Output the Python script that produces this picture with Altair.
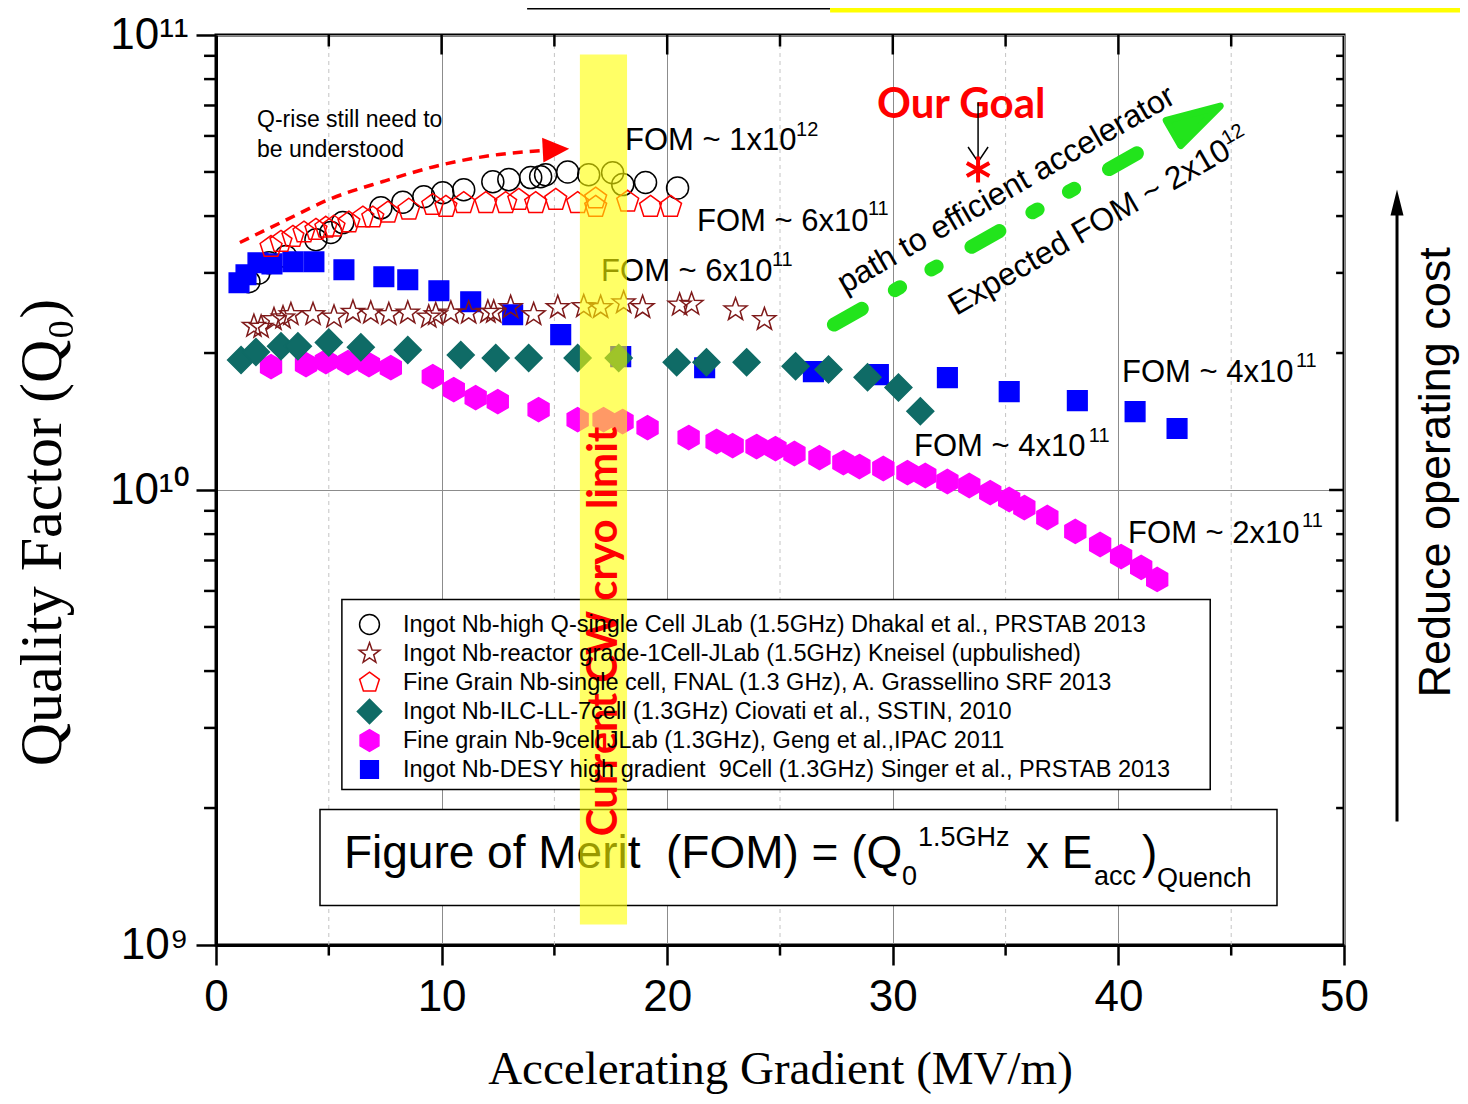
import altair as alt
import pandas as pd

# ---------------- data ----------------
SERIES = [
    "Ingot Nb-high Q-single Cell JLab (1.5GHz) Dhakal et al., PRSTAB 2013",
    "Ingot Nb-reactor grade-1Cell-JLab (1.5GHz) Kneisel (upbulished)",
    "Fine Grain Nb-single cell, FNAL (1.3 GHz), A. Grassellino SRF 2013",
    "Ingot Nb-ILC-LL-7cell (1.3GHz) Ciovati et al., SSTIN, 2010",
    "Fine grain Nb-9cell JLab (1.3GHz), Geng et al.,IPAC 2011",
    "Ingot Nb-DESY high gradient \u00a09Cell (1.3GHz) Singer et al., PRSTAB 2013",
]

dhakal_E = [1.46, 1.90, 2.35, 3.10, 4.43, 5.09, 5.62, 7.31, 8.28, 9.21, 10.05, 10.98,
            12.27, 12.98, 13.95, 14.39, 14.61, 15.59, 16.52, 17.58, 18.03, 19.04, 20.46]
dhakal_Q = [2.87e10, 3.00e10, 3.16e10, 3.26e10, 3.55e10, 3.68e10, 3.87e10, 4.17e10, 4.29e10,
            4.41e10, 4.50e10, 4.57e10, 4.76e10, 4.81e10, 4.86e10, 4.88e10, 4.93e10, 5.00e10,
            4.93e10, 4.98e10, 4.69e10, 4.74e10, 4.61e10]

kneisel_E = [1.68, 2.00, 2.57, 2.97, 3.32, 4.30, 5.23, 6.07, 6.86, 7.66, 8.50, 9.43, 9.74,
             10.41, 11.20, 12.05, 12.31, 13.06, 14.08, 15.15, 16.30, 17.05, 18.07, 18.91,
             20.55, 21.08, 23.03, 24.31]
kneisel_Q = [2.29e10, 2.28e10, 2.37e10, 2.39e10, 2.43e10, 2.43e10, 2.40e10, 2.46e10, 2.45e10,
             2.43e10, 2.45e10, 2.40e10, 2.43e10, 2.45e10, 2.45e10, 2.46e10, 2.46e10, 2.52e10,
             2.43e10, 2.52e10, 2.53e10, 2.52e10, 2.58e10, 2.52e10, 2.55e10, 2.56e10, 2.49e10,
             2.37e10]

grass_E = [2.44, 2.88, 3.41, 3.90, 4.43, 4.87, 5.23, 5.89, 6.51, 6.95, 7.62, 8.55, 9.61,
           10.19, 10.98, 11.96, 12.84, 13.42, 14.17, 15.06, 16.03, 16.83, 16.83, 18.25,
           19.26, 20.15]
grass_Q = [3.42e10, 3.51e10, 3.60e10, 3.68e10, 3.73e10, 3.77e10, 3.79e10, 3.87e10, 3.97e10,
           3.97e10, 4.07e10, 4.13e10, 4.23e10, 4.19e10, 4.27e10, 4.27e10, 4.27e10, 4.34e10,
           4.27e10, 4.34e10, 4.27e10, 4.37e10, 4.19e10, 4.30e10, 4.19e10, 4.19e10]

ciovati_E = [1.11, 1.77, 2.88, 3.63, 5.00, 6.42, 8.50, 10.85, 12.40, 13.86, 16.03, 17.85,
             20.42, 21.74, 23.52, 25.69, 27.15, 28.88, 30.25, 31.22]
ciovati_Q = [1.93e10, 2.01e10, 2.07e10, 2.07e10, 2.11e10, 2.06e10, 2.03e10, 1.98e10, 1.95e10,
             1.95e10, 1.95e10, 1.95e10, 1.91e10, 1.91e10, 1.91e10, 1.87e10, 1.84e10, 1.77e10,
             1.68e10, 1.49e10]

geng_E = [2.44, 3.99, 4.87, 5.85, 6.78, 7.75, 9.61, 10.54, 11.51, 12.49, 14.30, 16.03, 17.18,
          18.02, 19.13, 20.95, 22.19, 22.90, 23.96, 24.80, 25.64, 26.75, 27.81, 28.52, 29.58,
          30.65, 31.44, 32.42, 33.39, 34.32, 35.16, 35.83, 36.85, 38.09, 39.19, 40.12, 41.01,
          41.72]
geng_Q = [1.867e10, 1.886e10, 1.915e10, 1.905e10, 1.886e10, 1.857e10, 1.775e10, 1.662e10,
          1.596e10, 1.564e10, 1.502e10, 1.428e10, 1.428e10, 1.414e10, 1.371e10, 1.304e10,
          1.278e10, 1.252e10, 1.246e10, 1.233e10, 1.203e10, 1.178e10, 1.149e10, 1.126e10,
          1.115e10, 1.092e10, 1.076e10, 1.044e10, 1.023e10, 9.87e9, 9.53e9, 9.15e9, 8.70e9,
          8.11e9, 7.59e9, 7.14e9, 6.76e9, 6.36e9]

singer_E = [1.02, 1.33, 1.86, 2.48, 3.41, 4.34, 5.67, 7.44, 8.50, 9.88, 11.29, 13.15, 15.28,
            17.94, 21.66, 26.48, 29.36, 32.42, 35.16, 38.18, 40.74, 42.60]
singer_Q = [2.854e10, 2.972e10, 3.158e10, 3.14e10, 3.174e10, 3.174e10, 3.049e10, 2.942e10,
            2.898e10, 2.742e10, 2.593e10, 2.428e10, 2.195e10, 1.964e10, 1.857e10, 1.820e10,
            1.793e10, 1.766e10, 1.645e10, 1.572e10, 1.487e10, 1.365e10]

SERIES_DATA = [(dhakal_E, dhakal_Q), (kneisel_E, kneisel_Q), (grass_E, grass_Q),
               (ciovati_E, ciovati_Q), (geng_E, geng_Q), (singer_E, singer_Q)]
DRAW_Z = [0, 2, 5, 4, 3, 1]          # drawing order of each series

# marker styles
CIRCLE = "M0.786,0A0.786,0.786,0,1,1,-0.786,0A0.786,0.786,0,1,1,0.786,0Z"
STAR = ("M0,-0.86L0.206,-0.283L0.818,-0.266L0.333,0.108L0.505,0.696L0,0.35L-0.505,0.696"
        "L-0.333,0.108L-0.818,-0.266L-0.206,-0.283Z")
PENTAGON = "M0,-0.82L0.78,-0.253L0.482,0.663L-0.482,0.663L-0.78,-0.253Z"
DIAMOND = "M0,-0.96L0.96,0L0,0.96L-0.96,0Z"
HEXAGON = "M0,-0.86L0.745,-0.43L0.745,0.43L0,0.86L-0.745,0.43L-0.745,-0.43Z"
SQUARE = "M-0.7,-0.7L0.7,-0.7L0.7,0.7L-0.7,0.7Z"
SHAPES = [CIRCLE, STAR, PENTAGON, DIAMOND, HEXAGON, SQUARE]
STROKES = ["#000000", "#7f1a1a", "#ff0000", "#0f6b66", "#ff00ff", "#0000ff"]
FILLS = ["transparent", "transparent", "transparent", "#0f6b66", "#ff00ff", "#0000ff"]

# ticks / grid
MAJOR_X = [0, 10, 20, 30, 40, 50]
MINOR_X = [5, 15, 25, 35, 45]
MAJOR_Q = [1e9, 1e10, 1e11]
MINOR_Q = [2e9, 3e9, 4e9, 5e9, 6e9, 7e9, 8e9, 9e9,
           2e10, 3e10, 4e10, 5e10, 6e10, 7e10, 8e10, 9e10]

# annotations (data coordinates)
QRISE_TEXT = [(1.82, 6.49e10, "Q-rise still need to"), (1.82, 5.60e10, "be understood")]
RISE_CURVE_E = [1.06, 2.97, 5.01, 7.40, 10.06, 12.54, 14.58]
RISE_CURVE_Q = [3.499e10, 3.891e10, 4.351e10, 4.764e10, 5.193e10, 5.463e10, 5.574e10]
RISE_HEAD = (15.07, 5.603e10)
FOM_MAIN = [(18.13, 5.574e10, "FOM ~ 1x10"), (21.32, 3.718e10, "FOM ~ 6x10"),
            (17.07, 2.886e10, "FOM ~ 6x10"), (40.16, 1.723e10, "FOM ~ 4x10"),
            (30.94, 1.185e10, "FOM ~ 4x10"), (40.43, 7.666e9, "FOM ~ 2x10")]
FOM_EXP = [(25.71, 5.984e10, "12"), (28.90, 4.012e10, "11"), (24.64, 3.113e10, "11"),
           (47.87, 1.859e10, "11"), (38.69, 1.278e10, "11"), (48.14, 8.272e9, "11")]
GOAL_TEXT = (29.30, 6.585e10, "Our Goal")
GOAL_ARROW = (33.78, 7.105e10, 5.272e10)
GOAL_HEAD = (33.78, 5.463e10)
GOAL_STAR = (33.78, 5.063e10)
PATH_E = [27.39, 40.96]
PATH_Q = [2.310e10, 5.546e10]
PATH_HEAD = (43.48, 6.52e10)
PATH_TEXT = (35.02, 4.575e10, "path to efficient accelerator")
EXPECT_TEXT = (38.72, 3.776e10, "Expected FOM ~ 2x10")
EXPECT_EXP = (45.08, 6.045e10, "12")
BAND = (16.13, 18.22, 1.109e9, 9.06e10)
BAND_TEXT = (17.20, 4.89e9, "Current CW cryo limit")
COST_TEXT = (54.08, 1.093e10, "Reduce operating cost")
COST_ARROW = (52.35, 1.868e9, 4.135e10)
COST_HEAD = (52.35, 4.284e10)
LEGEND_BOX = (5.58, 44.07, 2.197e9, 5.745e9)
FORMULA_BOX = (4.61, 47.03, 1.221e9, 1.986e9)
FORMULA_BIG = [(5.67, 1.480e9, "Figure of Merit \u00a0(FOM) = (Q"), (35.90, 1.480e9, "x E"),
               (41.05, 1.480e9, ")")]
FORMULA_SMALL = [(30.41, 1.358e9, "0"), (31.12, 1.647e9, "1.5GHz"), (38.92, 1.358e9, "acc"),
                 (41.71, 1.338e9, "Quench")]
TOP_LINE = (13.79, 27.22, 1.155e11)
TOP_BOX = (27.22, 55.41, 1.121e11, 1.197e11)

# ---------------- helpers ----------------
SANS = "Liberation Sans"
SERIF = "Liberation Serif"
XS = alt.Scale(domain=[0, 50], nice=False, zero=False)
YS = alt.Scale(type="log", domain=[1e9, 1e11], nice=False)
XAXIS = alt.Axis(values=MAJOR_X, title="Accelerating Gradient (MV/m)", titleFont=SERIF,
                 titleFontSize=47, titleFontWeight="normal", titleColor="black",
                 titleY=124, titleBaseline="middle",
                 labelFont=SANS, labelFontSize=44, labelColor="black", labelPadding=10,
                 labelFlush=False, labelOverlap=False,
                 tickSize=20, tickWidth=2.5, tickColor="black",
                 domainColor="black", domainWidth=3,
                 grid=True, gridColor="#8c8c8c", gridWidth=1)
YAXIS = alt.Axis(values=MAJOR_Q,
                 labelExpr="datum.value > 5e10 ? '10\u00b9\u00b9' : (datum.value > 5e9 ? '10\u00b9\u2070' : '10\u2079')",
                 title="Quality Factor (Q\u2080)", titleFont=SERIF, titleFontSize=60,
                 titleFontWeight="normal", titleColor="black", titleAngle=270,
                 titleX=-174, titleY=497, titleAlign="center", titleBaseline="middle",
                 labelFont=SANS, labelFontSize=44, labelColor="black", labelPadding=8,
                 labelOverlap=False, labelFlush=False,
                 tickSize=20, tickWidth=2.5, tickColor="black",
                 domainColor="black", domainWidth=3,
                 grid=True, gridColor="#8c8c8c", gridWidth=1)


def X(f):
    return alt.X(f, type="quantitative", scale=XS, axis=XAXIS)


def Y(f):
    return alt.Y(f, type="quantitative", scale=YS, axis=YAXIS)


def texts(rows, **mark):
    df = pd.DataFrame(rows, columns=["x", "y", "t"])
    return alt.Chart(df).mark_text(**mark).encode(x=X("x"), y=Y("y"), text="t:N")


def rules(rows, **mark):
    df = pd.DataFrame(rows, columns=["x", "x2", "y", "y2"])
    return alt.Chart(df).mark_rule(**mark).encode(x=X("x"), x2="x2", y=Y("y"), y2="y2")


def rects(rows, **mark):
    df = pd.DataFrame(rows, columns=["x", "x2", "y", "y2"])
    return alt.Chart(df).mark_rect(**mark).encode(x=X("x"), x2="x2", y=Y("y"), y2="y2")


def symbol(pt, **mark):
    df = pd.DataFrame([pt], columns=["x", "y"])
    return alt.Chart(df).mark_point(opacity=1, **mark).encode(x=X("x"), y=Y("y"))


# ---------------- layers ----------------
TICK = dict(color="black", strokeWidth=2.5)
grid_minor = rules([(v, v, 1e9, 1e11) for v in MINOR_X], color="#c4c4c4", strokeWidth=1,
                   strokeDash=[4, 4])
ticks = alt.layer(
    rules([(-0.53, 0, q, q) for q in MINOR_Q], **TICK),
    rules([(v, v, 9.48e8, 1e9) for v in MINOR_X], **TICK),
    rules([(v, v, 9.06e10, 1e11) for v in MAJOR_X[1:-1]], **TICK),
    rules([(v, v, 9.435e10, 1e11) for v in MINOR_X], **TICK),
    rules([(49.34, 50, 1e10, 1e10)], **TICK),
    rules([(49.65, 50, q, q) for q in MINOR_Q], **TICK),
)

boxes = rects([LEGEND_BOX, FORMULA_BOX], fill="white", stroke="black", strokeWidth=1.5)
formula = alt.layer(
    texts(FORMULA_BIG, font=SANS, fontSize=46, color="black", align="left", baseline="alphabetic"),
    texts(FORMULA_SMALL, font=SANS, fontSize=27, color="black", align="left", baseline="alphabetic"),
)

notes = alt.layer(
    texts(QRISE_TEXT, font=SANS, fontSize=23, color="black", align="left", baseline="middle"),
    texts(FOM_MAIN, font=SANS, fontSize=31, color="black", align="left", baseline="alphabetic"),
    texts(FOM_EXP, font=SANS, fontSize=20, color="black", align="left", baseline="alphabetic"),
    texts([PATH_TEXT], font=SANS, fontSize=32, color="black", align="center", baseline="middle",
          angle=330),
    texts([EXPECT_TEXT], font=SANS, fontSize=32, color="black", align="center", baseline="middle",
          angle=330),
    texts([EXPECT_EXP], font=SANS, fontSize=20, color="black", align="center", baseline="middle",
          angle=330),
    texts([COST_TEXT], font=SANS, fontSize=45, color="black", align="center", baseline="middle",
          angle=270),
    rules([(COST_ARROW[0], COST_ARROW[0], COST_ARROW[1], COST_ARROW[2])], color="black",
          strokeWidth=3),
    symbol(COST_HEAD, shape="M0,-1L0.5,1L-0.5,1Z", size=676, filled=True, color="black"),
)

rise_df = pd.DataFrame({"x": RISE_CURVE_E, "y": RISE_CURVE_Q, "i": range(len(RISE_CURVE_E))})
rise = alt.layer(
    alt.Chart(rise_df).mark_line(color="#ff0000", strokeWidth=3.5, strokeDash=[10, 7],
                                 interpolate="monotone").encode(x=X("x"), y=Y("y"), order="i:Q"),
    symbol(RISE_HEAD, shape="M-1,-0.94L1,0L-1,0.94Z", size=702, angle=357, filled=True,
           color="#ff0000"),
)

rows = []
for k, (es, qs) in enumerate(SERIES_DATA):
    for e, q in zip(es, qs):
        rows.append({"series": SERIES[k], "E": e, "Q": q, "z": DRAW_Z[k]})
pts_df = pd.DataFrame(rows)

LEG = alt.Legend(title=None, orient="none", legendX=140, legendY=576, labelFont=SANS,
                 labelFontSize=23.5, labelColor="black", symbolSize=640, symbolStrokeWidth=1.5,
                 rowPadding=-2.3, gridAlign="all", labelOffset=20, padding=0, labelLimit=1000,
                 symbolOpacity=1)
points = alt.Chart(pts_df).mark_point(size=784, strokeWidth=1.5, opacity=1, filled=False).encode(
    x=X("E"), y=Y("Q"),
    shape=alt.Shape("series:N", scale=alt.Scale(domain=SERIES, range=SHAPES), legend=LEG),
    stroke=alt.Stroke("series:N", scale=alt.Scale(domain=SERIES, range=STROKES), legend=LEG),
    fill=alt.Fill("series:N", scale=alt.Scale(domain=SERIES, range=FILLS), legend=LEG),
    order=alt.Order("z:Q"),
)

GREEN = "#22e41c"
path_df = pd.DataFrame({"x": PATH_E, "y": PATH_Q})
goal = alt.layer(
    alt.Chart(path_df).mark_line(color=GREEN, strokeWidth=14, strokeCap="round",
                                 strokeDash=[32, 38, 6, 36, 6, 40]).encode(x=X("x"), y=Y("y")),
    symbol(PATH_HEAD, shape="M-1,-0.54L1,0L-1,0.54Z", size=2916, angle=330, filled=True,
           fill=GREEN, stroke=GREEN, strokeWidth=7, strokeJoin="round"),
    texts([GOAL_TEXT], font="Lato", fontWeight="bold", fontSize=42, color="#ff0000",
          align="left", baseline="alphabetic"),
    rules([(GOAL_ARROW[0], GOAL_ARROW[0], GOAL_ARROW[1], GOAL_ARROW[2])], color="black",
          strokeWidth=1.5),
    symbol(GOAL_HEAD, shape="M-1,-0.75L0,0.75L1,-0.75", size=400, filled=False, stroke="black",
           strokeWidth=1.5),
    symbol(GOAL_STAR, shape="M0,-1L0,1M-0.866,-0.5L0.866,0.5M-0.866,0.5L0.866,-0.5", size=676,
           filled=False, stroke="#ff0000", strokeWidth=4),
)

band = alt.layer(
    rects([BAND], color="#ffff00", opacity=0.6),
    texts([BAND_TEXT], font="Lato", fontWeight="bold", fontSize=42, color="#ff0000",
          align="center", baseline="middle", angle=270),
    rules([(TOP_LINE[0], TOP_LINE[1], TOP_LINE[2], TOP_LINE[2])], color="black", strokeWidth=6),
    rects([TOP_BOX], color="#ffff00", opacity=1),
)

chart = alt.layer(grid_minor, ticks, boxes, formula, notes, rise, points, goal, band).properties(
    width=1128, height=910,
    autosize=alt.AutoSizeParams(type="none"),
    padding={"left": 208, "top": 27, "right": 116, "bottom": 151},
    background="white",
).configure_view(stroke="black", strokeWidth=3)

chart.save("out.html", embed_options={"renderer": "svg", "actions": False})
